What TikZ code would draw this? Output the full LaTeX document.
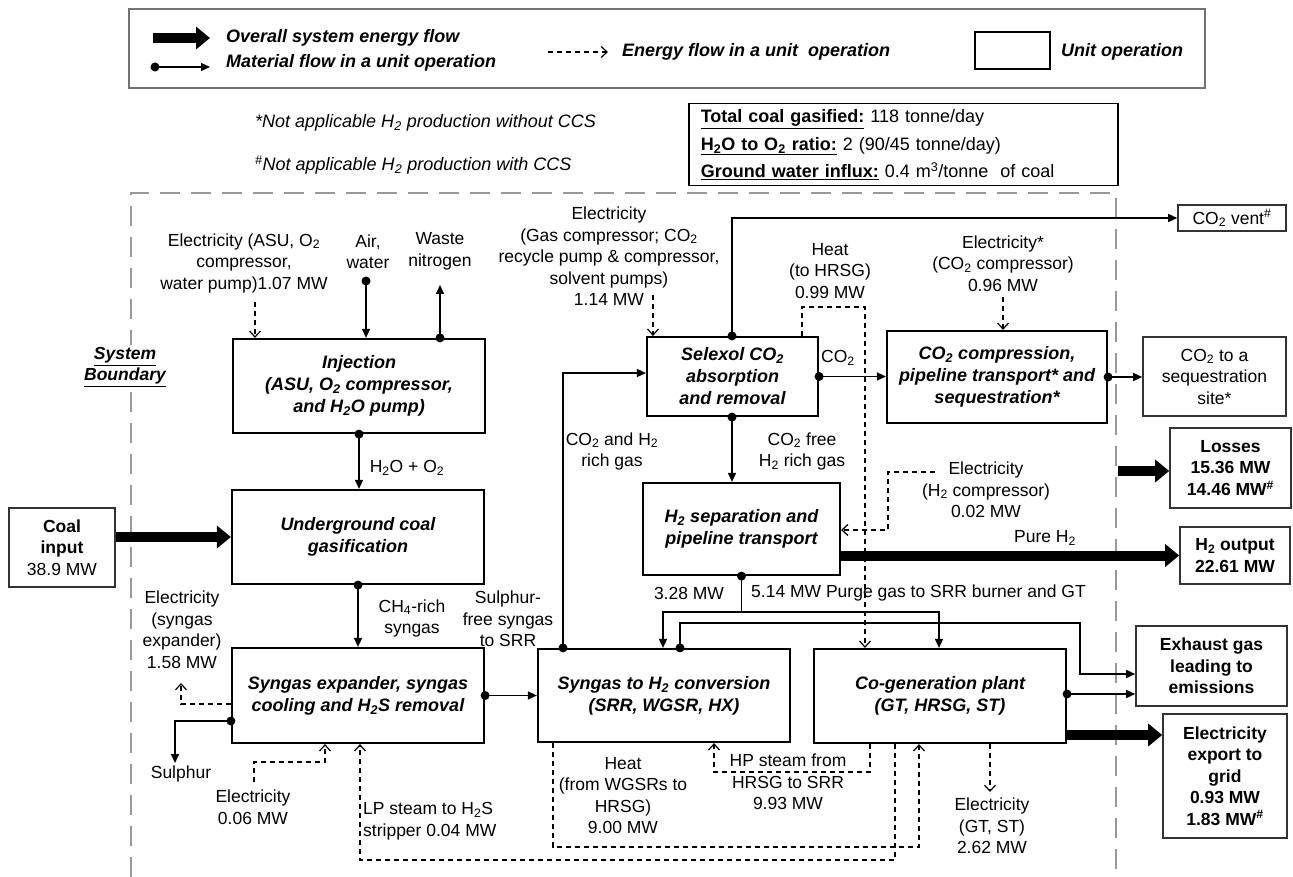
\documentclass[tikz,border=0pt]{standalone}
\usepackage{fontspec}
\setmainfont{Liberation Sans}
\usetikzlibrary{arrows.meta,calc}
\begin{document}
\begin{tikzpicture}[x=1pt,y=-1pt,
  every node/.style={font=\fontsize{17.5}{21.5}\selectfont, inner sep=0pt, align=center},
  unitbox/.style={draw=black, line width=2.2pt, font=\fontsize{18}{22}\selectfont\bfseries\itshape},
  outbox/.style={draw=black!80, line width=1.6pt},
  mat/.style={line width=1.5pt, -{Triangle[length=9pt,width=8pt]}},
  plain/.style={line width=1.5pt},
  en/.style={line width=1.3pt, dash pattern=on 5pt off 4pt, -{Straight Barb[length=6pt,width=11pt,line width=1.2pt]}},
  enplain/.style={line width=1.3pt, dash pattern=on 5pt off 4pt},
  thickflow/.style={line width=10pt, -{Triangle[length=14pt,width=22pt]}},
  bi/.style={font=\fontsize{18}{22}\selectfont\bfseries\itshape},
  bo/.style={font=\fontsize{17.5}{21.5}\selectfont\bfseries}
]
\useasboundingbox (0,0) rectangle (1293,877);
\fill[white] (0,0) rectangle (1293,877);

% ---------- legend ----------
\node[draw=black!55, line width=1.5pt, minimum width=1076pt, minimum height=79pt] (legend) at (667,48.5) {};
\coordinate (lgA1) at (153,38); \coordinate (lgA2) at (210,38);
\draw[thickflow] (lgA1) -- (lgA2);
\node[bi, anchor=west] (lgT1) at (226,38) {Overall system energy flow};
\coordinate (lgB1) at (155,67); \coordinate (lgB2) at (210,67);
\fill (lgB1) circle (4.5pt);
\draw[mat] (lgB1) -- (lgB2);
\node[bi, anchor=west] (lgT2) at (226,63) {Material flow in a unit operation};
\coordinate (lgC1) at (548,52); \coordinate (lgC2) at (608,52);
\draw[en] (lgC1) -- (lgC2);
\node[bi, anchor=west] (lgT3) at (622,52) {Energy flow in a unit\ \ operation};
\node[draw, line width=1.5pt, minimum width=75pt, minimum height=37pt] (legU) at (1012.5,50.5) {};
\node[bi, anchor=west] (lgT4) at (1061,52) {Unit operation};

% ---------- notes ----------
\node[anchor=west, font=\fontsize{18}{22}\selectfont\itshape] (note1) at (255,123) {*Not applicable H\textsubscript{2} production without CCS};
\node[anchor=west, font=\fontsize{18}{22}\selectfont\itshape] (note2) at (255,165) {\textsuperscript{\#}Not applicable H\textsubscript{2} production with CCS};

\node[draw, line width=1.5pt, anchor=north west, minimum width=429pt, minimum height=82pt,
      text width=405pt, align=left, font=\fontsize{18}{27.5}\selectfont] (info) at (688,103)
 {\underline{\textbf{Total coal gasified:}} 118 tonne/day\\
  \underline{\textbf{H\textsubscript{2}O to O\textsubscript{2} ratio:}} 2 (90/45 tonne/day)\\
  \underline{\textbf{Ground water influx:}} 0.4 m\textsuperscript{3}/tonne\ \ of coal};

% ---------- system boundary ----------
\draw[black!40, line width=2.5pt, dash pattern=on 20pt off 11pt] (131,877) -- (131,193) -- (1116,193) -- (1116,877);
\node[fill=white, inner sep=3pt, font=\fontsize{17.5}{21}\selectfont\bfseries\itshape] (sysb) at (125,367) {\underline{System}\\\underline{Boundary}};

% ---------- unit operations ----------
\node[unitbox, minimum width=252pt, minimum height=94pt] (inj) at (359,386) {Injection\\(ASU, O\textsubscript{2} compressor,\\and H\textsubscript{2}O pump)};
\node[unitbox, minimum width=252pt, minimum height=94pt] (ucg) at (358,537) {Underground coal\\gasification};
\node[unitbox, minimum width=252pt, minimum height=95pt] (sgx) at (358,695.5) {Syngas expander, syngas\\cooling and H\textsubscript{2}S removal};
\node[unitbox, minimum width=171pt, minimum height=79pt] (sel) at (732.5,376.5) {Selexol CO\textsubscript{2}\\absorption\\and removal};
\node[unitbox, minimum width=220pt, minimum height=92pt] (co2c) at (997,377) {CO\textsubscript{2} compression,\\pipeline transport* and\\sequestration*};
\node[unitbox, minimum width=197pt, minimum height=92pt] (h2s) at (741.5,529) {H\textsubscript{2} separation and\\pipeline transport};
\node[unitbox, minimum width=252pt, minimum height=93pt] (sth) at (664,695.5) {Syngas to H\textsubscript{2} conversion\\(SRR, WGSR, HX)};
\node[unitbox, minimum width=252pt, minimum height=94pt] (cog) at (940,696) {Co-generation plant\\(GT, HRSG, ST)};

% ---------- outer boxes ----------
\node[outbox, minimum width=106pt, minimum height=79pt] (coal) at (62,547.5) {\textbf{Coal}\\\textbf{input}\\38.9 MW};
\node[outbox, minimum width=108pt, minimum height=26pt] (vent) at (1232,218) {CO\textsubscript{2} vent\textsuperscript{\#}};
\node[outbox, minimum width=143pt, minimum height=79pt] (seq) at (1214.5,376.5) {CO\textsubscript{2} to a\\sequestration\\site*};
\node[outbox, bo, minimum width=121pt, minimum height=80pt] (loss) at (1230.5,468) {Losses\\15.36 MW\\14.46 MW\textsuperscript{\#}};
\node[outbox, bo, minimum width=110pt, minimum height=57pt] (h2o) at (1235,555.5) {H\textsubscript{2} output\\22.61 MW};
\node[outbox, bo, minimum width=151pt, minimum height=80pt] (exh) at (1211.5,666) {Exhaust gas\\leading to\\emissions};
\node[outbox, bo, minimum width=124pt, minimum height=124pt] (elx) at (1225,776) {Electricity\\export to\\grid\\0.93 MW\\1.83 MW\textsuperscript{\#}};

% ---------- labels ----------
\node (lblEA) at (244,263) {Electricity (ASU, O\textsubscript{2}\\compressor,\\water pump)1.07 MW};
\node (lblAir) at (368,251.5) {Air,\\water};
\node (lblWaste) at (440,251.5) {Waste\\nitrogen};
\node (lblES) at (609,256.5) {Electricity\\(Gas compressor; CO\textsubscript{2}\\recycle pump \& compressor,\\solvent pumps)\\1.14 MW};
\node (lblHeat) at (830,271) {Heat\\(to HRSG)\\0.99 MW};
\node (lblEC) at (1003,263.5) {Electricity*\\(CO\textsubscript{2} compressor)\\0.96 MW};
\node (lblCO2) at (838,358) {CO\textsubscript{2}};
\node (lblCH) at (612,451.5) {CO\textsubscript{2} and H\textsubscript{2}\\rich gas};
\node (lblCF) at (802,451.5) {CO\textsubscript{2} free\\H\textsubscript{2} rich gas};
\node (lblEH) at (986,490) {Electricity\\(H\textsubscript{2} compressor)\\0.02 MW};
\node (lblPure) at (1045,538) {Pure H\textsubscript{2}};
\node (lblHO) at (407,468) {H\textsubscript{2}O + O\textsubscript{2}};
\node (lbl328) at (689,593) {3.28 MW};
\node[anchor=west] (lblPurge) at (751,593) {5.14 MW Purge gas to SRR burner and GT};
\node (lblCH4) at (412,618.5) {CH\textsubscript{4}-rich\\syngas};
\node (lblSF) at (508,619) {Sulphur-\\free syngas\\to SRR};
\node (lblESX) at (182,629.5) {Electricity\\(syngas\\expander)\\1.58 MW};
\node (lblSul) at (181,774) {Sulphur};
\node (lblE06) at (253,807) {Electricity\\0.06 MW};
\node[anchor=west, align=left] (lblLP) at (363,821) {LP steam to H\textsubscript{2}S\\stripper 0.04 MW};
\node (lblHW) at (623,795.5) {Heat\\(from WGSRs to\\HRSG)\\9.00 MW};
\node (lblHP) at (788,782) {HP steam from\\HRSG to SRR\\9.93 MW};
\node (lblEG) at (992,826) {Electricity\\(GT, ST)\\2.62 MW};

% ---------- free-end coordinates ----------
\coordinate (eA) at (255,302);
\coordinate (airTop) at (366,281);
\coordinate (wasteTop) at (440,285);
\coordinate (sulEnd) at (175,763);
\coordinate (esxEnd) at (181,683);
\coordinate (e06) at (254,782);
\coordinate (eS) at (653,295);
\coordinate (eC) at (1003,297);
\coordinate (eH) at (935,472);
\coordinate (purgeSplit) at (741.5,612);
\coordinate (egEnd) at (990,792);
\coordinate (lossStart) at (1118,471);

% ---------- energy flows (thick) ----------
\draw[thickflow] (coal.east |- ucg.west) -- (ucg.west);
\draw[thickflow] (h2s.east |- h2o.west) -- (h2o.west);
\draw[thickflow] (cog.east |- 0,735) -- (elx.west |- 0,735);
\draw[thickflow] (lossStart) -- (loss.west |- lossStart);

% ---------- dashed energy flows ----------
\draw[en] (eA) -- (eA |- inj.north);
\draw[en] (sgx.west |- 0,704) -| (esxEnd);
\draw[en] (e06) |- (325,762) -- (325,0 |- sgx.south);
\draw[en] (895,0 |- cog.south) -- (895,860) -| (360,0 |- sgx.south);
\draw[en] (553,0 |- sth.south) |- (919,847) -- (919,0 |- cog.south);
\draw[en] (870,0 |- cog.south) |- (714,772) -- (714,0 |- sth.south);
\draw[en] (990,0 |- cog.south) -- (egEnd);
\draw[en] (eS) -- (eS |- sel.north);
\draw[en] (802,0 |- sel.north) |- (865,307) -- (865,0 |- cog.north);
\draw[en] (eC) -- (eC |- co2c.north);
\draw[en] (eH) -| (888,530) -- (h2s.east |- 0,530);

% ---------- material flows ----------
\fill (airTop) circle (4.5pt);
\draw[mat] (airTop) -- (airTop |- inj.north);
\fill (wasteTop |- inj.north) circle (4.5pt);
\draw[mat] (wasteTop |- inj.north) -- (wasteTop);
\fill (inj.south) circle (4.5pt);
\draw[mat] (inj.south) -- (inj.south |- ucg.north);
\fill (ucg.south) circle (4.5pt);
\draw[mat] (ucg.south) -- (sgx.north);
\fill (sgx.east) circle (4.5pt);
\draw[mat] (sgx.east) -- (sgx.east -| sth.west);
\fill (sgx.west |- 0,721) circle (4.5pt);
\draw[mat] (sgx.west |- 0,721) -| (sulEnd);
\fill (563,0 |- sth.north) circle (4.5pt);
\draw[mat] (563,0 |- sth.north) |- (sel.west |- 0,373);
\fill (732,0 |- sel.north) circle (4.5pt);
\draw[mat] (732,0 |- sel.north) |- (vent.west);
\fill (sel.east) circle (4.5pt);
\draw[mat] (sel.east) -- (sel.east -| co2c.west);
\fill (co2c.east) circle (4.5pt);
\draw[mat] (co2c.east) -- (co2c.east -| seq.west);
\fill (732,0 |- sel.south) circle (4.5pt);
\draw[mat] (732,0 |- sel.south) -- (732,0 |- h2s.north);
\fill (h2s.south) circle (4.5pt);
\draw[plain] (h2s.south) -- (purgeSplit);
\draw[mat] (purgeSplit) -| (663,0 |- sth.north);
\draw[mat] (purgeSplit) -| (939,0 |- cog.north);
\fill (680,0 |- sth.north) circle (4.5pt);
\draw[mat] (680,0 |- sth.north) |- (1080,623) |- (exh.west |- 0,674);
\fill (cog.east |- 0,694) circle (4.5pt);
\draw[mat] (cog.east |- 0,694) -- (exh.west |- 0,694);
\end{tikzpicture}
\end{document}
